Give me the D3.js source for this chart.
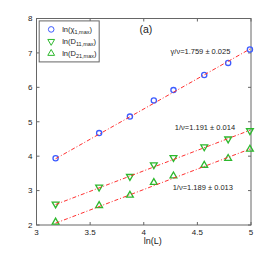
<!DOCTYPE html>
<html>
<head>
<meta charset="utf-8">
<script src="https://cdn.jsdelivr.net/npm/d3@7"></script>
<style>
body { margin: 0; background: #fff; }
text { font-family: "Liberation Sans", Arial, sans-serif; }
</style>
</head>
<body>
<script>
// data
let lnL = [3.178, 3.584, 3.871, 4.094, 4.277, 4.564, 4.787, 4.99];
let chi = [3.94, 4.67, 5.15, 5.62, 5.92, 6.36, 6.71, 7.10];
let d11 = [2.61, 3.10, 3.41, 3.75, 3.96, 4.27, 4.50, 4.74];
let d21 = [2.07, 2.55, 2.85, 3.22, 3.41, 3.72, 3.92, 4.19];
let slopes = [1.759, 1.191, 1.189];
let intercepts = [-1.665, -1.19, -1.725];
let fitLabels = ["γ/ν=1.759 ± 0.025", "1/ν=1.191 ± 0.014", "1/ν=1.189 ± 0.013"];
let xTicks = [3, 3.5, 4, 4.5, 5];
let yTicks = [2, 3, 4, 5, 6, 7, 8];

let svg = d3.select("body").append("svg")
	.attr("width", 278)
	.attr("height", 253);

let margin = {top: 18.5, right: 27, bottom: 28, left: 36.5};
let width = 278 - margin.left - margin.right;
let height = 253 - margin.top - margin.bottom;

let x = d3.scaleLinear().domain([3, 5]).range([0, width]);
let y = d3.scaleLinear().domain([2, 8]).range([height, 0]);

let g = svg.append("g").attr("transform", `translate(${margin.left},${margin.top})`);

let axisColor = "#666";
let tk = 3;

// box
g.append("rect")
	.attr("width", width).attr("height", height)
	.attr("fill", "none").attr("stroke", axisColor).attr("stroke-width", 1);

// ticks, inside on all four sides
xTicks.forEach(t => {
	g.append("line").attr("x1", x(t)).attr("x2", x(t)).attr("y1", height).attr("y2", height - tk).attr("stroke", axisColor);
	g.append("line").attr("x1", x(t)).attr("x2", x(t)).attr("y1", 0).attr("y2", tk).attr("stroke", axisColor);
	g.append("text").attr("x", x(t)).attr("y", height + 10)
		.attr("text-anchor", "middle").attr("font-size", 8).attr("fill", "#222").text(t);
});
yTicks.forEach(t => {
	g.append("line").attr("x1", 0).attr("x2", tk).attr("y1", y(t)).attr("y2", y(t)).attr("stroke", axisColor);
	g.append("line").attr("x1", width).attr("x2", width - tk).attr("y1", y(t)).attr("y2", y(t)).attr("stroke", axisColor);
	g.append("text").attr("x", -4).attr("y", y(t)).attr("dy", "0.35em")
		.attr("text-anchor", "end").attr("font-size", 8).attr("fill", "#222").text(t);
});

g.append("text").attr("x", x(4)).attr("y", height + 19)
	.attr("font-size", 9).attr("fill", "#222").text("ln(L)");

let blue = "#3d5cff";
let green = "#2db82d";
let tri = d3.symbol().type(d3.symbolTriangle).size(20);

// markers
g.selectAll(".chi").data(lnL).enter().append("circle")
	.attr("cx", d => x(d)).attr("cy", (d, i) => y(chi[i])).attr("r", 2.6)
	.attr("fill", "none").attr("stroke", blue).attr("stroke-width", 1.3);

g.selectAll(".d11").data(lnL).enter().append("path")
	.attr("d", tri)
	.attr("transform", (d, i) => `translate(${x(d)},${y(d11[i])}) rotate(180)`)
	.attr("fill", "none").attr("stroke", green).attr("stroke-width", 1.3);

g.selectAll(".d21").data(lnL).enter().append("path")
	.attr("d", tri)
	.attr("transform", (d, i) => `translate(${x(d)},${y(d21[i]) - 0.5})`)
	.attr("fill", "none").attr("stroke", green).attr("stroke-width", 1.3);

// fitted lines
let x0 = lnL[0], x1 = lnL[lnL.length - 1];
slopes.forEach((s, i) => {
	g.append("line")
		.attr("x1", x(x0)).attr("y1", y(s * x0 + intercepts[i]))
		.attr("x2", x(x1)).attr("y2", y(s * x1 + intercepts[i]))
		.attr("stroke", "#ff3030").attr("stroke-width", 1)
		.attr("stroke-dasharray", "4,2,1,2");
});

// fit annotations
let labelPos = [[4.25, 6.96], [4.29, 4.75], [4.27, 3.02]];
fitLabels.forEach((t, i) => {
	g.append("text").attr("x", x(labelPos[i][0])).attr("y", y(labelPos[i][1]))
		.attr("font-size", 7.5).attr("fill", "#222").text(t);
});

g.append("text").attr("x", x(3.96)).attr("y", y(7.58))
	.attr("font-size", 10.5).attr("fill", "#222").text("(a)");

// legend
let leg = g.append("g").attr("transform", `translate(${x(3.025)},${y(7.93)})`);
leg.append("rect").attr("width", 60).attr("height", 41)
	.attr("fill", "#fff").attr("stroke", axisColor).attr("stroke-width", 1);
let legRows = [
	{base: "ln(χ", sub: "1,max", kind: "circle"},
	{base: "ln(D", sub: "11,max", kind: "down"},
	{base: "ln(D", sub: "21,max", kind: "up"}
];
legRows.forEach((r, i) => {
	let cy = 8.5 + i * 12;
	if (r.kind == "circle") {
		leg.append("circle").attr("cx", 12).attr("cy", cy).attr("r", 2.8)
			.attr("fill", "none").attr("stroke", blue).attr("stroke-width", 1);
	} else {
		leg.append("path").attr("d", tri)
			.attr("transform", `translate(12,${cy}) rotate(${r.kind == "down" ? 180 : 0})`)
			.attr("fill", "none").attr("stroke", green).attr("stroke-width", 1);
	}
	let t = leg.append("text").attr("x", 23).attr("y", cy + 2.5)
		.attr("font-size", 7.5).attr("fill", "#222");
	t.append("tspan").text(r.base);
	t.append("tspan").attr("font-size", 5.5).attr("dy", 2).text(r.sub);
	t.append("tspan").attr("dy", -2).text(")");
});
</script>
</body>
</html>
